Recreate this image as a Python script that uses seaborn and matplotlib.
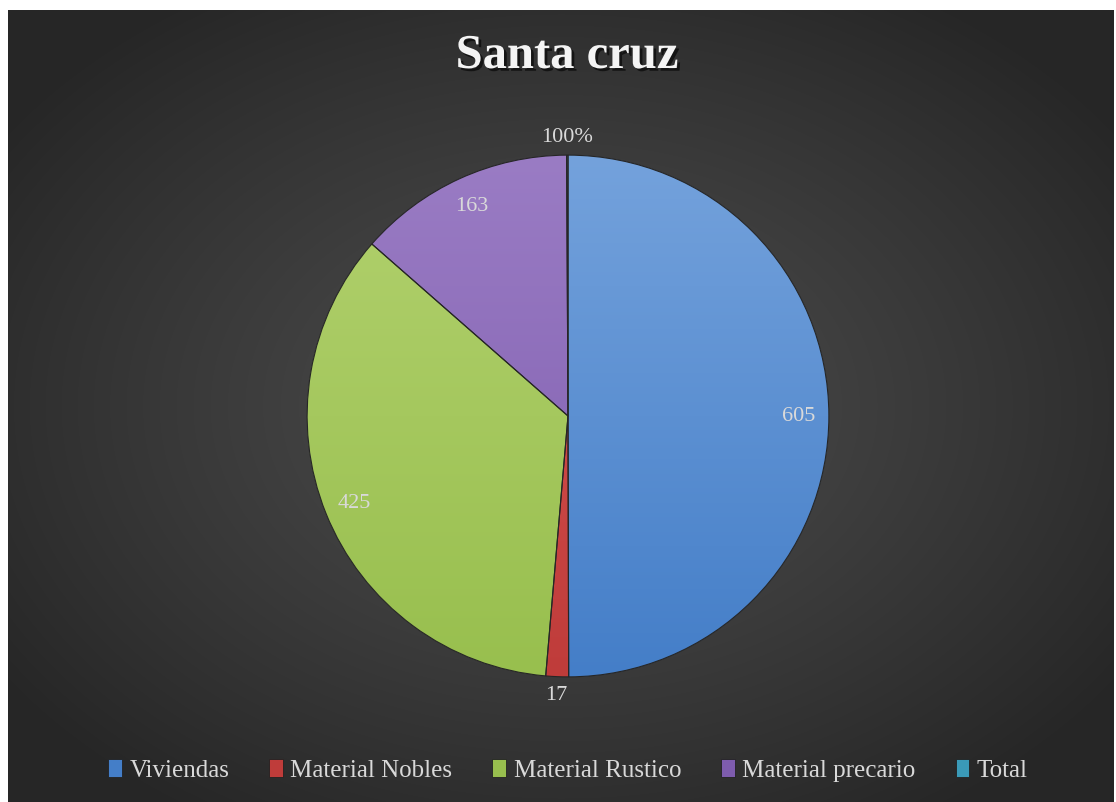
import numpy as np
import matplotlib
matplotlib.use("Agg")
import matplotlib.pyplot as plt
import matplotlib.patheffects as pe
from matplotlib.colors import LinearSegmentedColormap
from matplotlib.patches import Rectangle
import seaborn as sns

# Housing counts by construction material
categories = ["Viviendas", "Material Nobles", "Material Rustico", "Material precario", "Total"]
values = [605, 17, 425, 163, 1]
value_labels = ["605", "17", "425", "163", "100%"]
chart_title = "Santa cruz"

# light (top) and dark (bottom) tone of each slice
tops = ["#74a2dc", "#dc5755", "#b2d16e", "#9a7cc4", "#5ec0d8"]
bottoms = ["#447ec8", "#bf3c3a", "#98bf4e", "#7e5cae", "#3a9ab8"]

sns.set_theme(style="white")
plt.rcParams["font.family"] = ["Liberation Serif", "DejaVu Serif"]

FW, FH = 1116, 803
fig = plt.figure(figsize=(FW / 100, FH / 100), dpi=100)
fig.patch.set_facecolor("white")

# dark radial background panel
bg = fig.add_axes([8 / FW, 0, 1106 / FW, 792 / FH])
bg.set_axis_off()
W, H = 1106, 792
yy, xx = np.mgrid[0:H, 0:W]
d = np.sqrt(((xx - W * 0.5) / (W * 0.62)) ** 2 + ((yy - H * 0.5) / (H * 0.62)) ** 2)
g = (76 - 38 * np.clip(d, 0, 1) ** 1.2) / 255.0
bg.imshow(np.dstack([g, g, g]), aspect="auto", extent=(0, 1, 0, 1), interpolation="bilinear")
bg.set_xlim(0, 1)
bg.set_ylim(0, 1)

# pie axes: 600x600 px centred on the pie
cx, cy = 568, FH - 417
ax = fig.add_axes([(cx - 300) / FW, (cy - 300) / FH, 600 / FW, 600 / FH])
ax.set_facecolor("none")
wedges, _ = ax.pie(values, startangle=90, counterclock=False, colors=bottoms,
                   wedgeprops=dict(linewidth=0))
grad = np.linspace(1, 0, 256).reshape(-1, 1)
for w, t, b in zip(wedges, tops, bottoms):
    cmap = LinearSegmentedColormap.from_list("s", [b, t])
    im = ax.imshow(grad, cmap=cmap, extent=(-1, 1, -1, 1), aspect="auto",
                   interpolation="bilinear", zorder=w.get_zorder() + 0.1)
    im.set_clip_path(w)
ax.pie(values, startangle=90, counterclock=False,
       wedgeprops=dict(fill=False, edgecolor="#262626", linewidth=0.8, zorder=5))
ax.set_xlim(-1.15, 1.15)
ax.set_ylim(-1.15, 1.15)
ax.set_axis_off()

total = sum(values)
for w, lab, v in zip(wedges, value_labels, values):
    mid = np.deg2rad((w.theta1 + w.theta2) / 2)
    r = 1.07 if v / total < 0.03 else 0.885
    ax.text(r * np.cos(mid), r * np.sin(mid), lab, ha="center", va="center",
            fontsize=16, color="#d9d9d9", zorder=6)

fig.text(567 / FW, 1 - 57 / FH, chart_title, ha="center", va="center",
         fontsize=35, fontweight="bold", color="#f4f4f4",
         path_effects=[pe.withSimplePatchShadow(offset=(2, -2), shadow_rgbFace="black", alpha=0.6)])

handles = [Rectangle((0, 0), 1, 1, facecolor=b, edgecolor="#222222", linewidth=0.6) for b in bottoms]
fig.legend(handles, categories, loc="center", bbox_to_anchor=(568 / FW, 1 - 771 / FH),
           ncol=5, frameon=False, fontsize=18, labelcolor="#d9d9d9",
           handlelength=0.55, handleheight=0.75, handletextpad=0.3, columnspacing=1.6)

fig.savefig("out.png", dpi=100, facecolor=fig.get_facecolor())
